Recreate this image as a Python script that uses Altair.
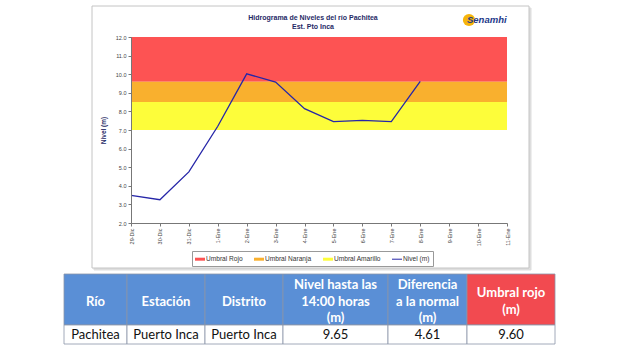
import altair as alt
import pandas as pd

# ---------------- data ----------------
DATES = ["29-Dic", "30-Dic", "31-Dic", "1-Ene", "2-Ene", "3-Ene", "4-Ene",
         "5-Ene", "6-Ene", "7-Ene", "8-Ene", "9-Ene", "10-Ene", "11-Ene"]
NIVEL = [3.48, 3.25, 4.75, 7.2, 10.02, 9.58, 8.15, 7.45, 7.52, 7.45, 9.62]
BAND_NAMES = ["Umbral Rojo", "Umbral Naranja", "Umbral Amarillo"]
BAND_LO = [9.6, 8.5, 7.0]
BAND_HI = [12.0, 9.6, 8.5]
LINE_NAME = "Nivel (m)"
SERIES = BAND_NAMES + [LINE_NAME]
Y_TICKS = [2, 3, 4, 5, 6, 7, 8, 9, 10, 11, 12]

TABLE_HEADERS = [["Río"], ["Estación"], ["Distrito"],
                 ["Nivel hasta las", "14:00 horas", "(m)"],
                 ["Diferencia", "a la normal", "(m)"],
                 ["Umbral rojo", "(m)"]]
TABLE_ROW = ["Pachitea", "Puerto Inca", "Puerto Inca", "9.65", "4.61", "9.60"]

TITLE_LINES = ["Hidrograma de Niveles del río Pachitea", "Est. Pto Inca"]
LOGO = "Senamhi"

# ---------------- styles / layout ----------------
BAND_COLORS = ["#fd5353", "#f9b02e", "#fdfd3a"]
LINE_COLOR = "#2626a8"
LEGEND_COLORS = BAND_COLORS + [LINE_COLOR]
LEGEND_PATHS = ["M-1,-0.3H1V0.3H-1Z"] * 3 + ["M-1,-0.1H1V0.1H-1Z"]
HEAD_BLUE = "#5a8fd6"
HEAD_RED = "#f24a50"
NAVY = "#1f2a66"
FONT = "Liberation Sans"
TFONT = "Lato"

W_PAGE, H_PAGE = 617, 351
PLOT_LEFT, PLOT_TOP, PLOT_W, PLOT_H = 131, 37, 376, 186
TABLE_LEFT = 64
COL_W = [63, 78, 78, 105, 79, 88]
HEAD_TOP, HEAD_H, ROW_H = 274, 51, 19
HEAD_MID = 27.6
LINE_STEP = 16.7
BOX = (92, 6, 529, 268)
TITLE_X, TITLE_Y, TITLE_STEP = 313, 18, 9

# ---------------- main chart ----------------
xscale = alt.Scale(domain=DATES, type="point", padding=0)
yscale = alt.Scale(domain=[2, 12], nice=False, zero=False)

bands_df = pd.DataFrame({
    "serie": BAND_NAMES, "lo": BAND_LO, "hi": BAND_HI,
    "x0": [DATES[0]] * 3, "x1": [DATES[-1]] * 3, "color": BAND_COLORS,
})
line_df = pd.DataFrame({"fecha": DATES[:len(NIVEL)], "nivel": NIVEL})
legend_df = pd.DataFrame({"serie": SERIES})

xaxis = alt.Axis(orient="bottom", labelAngle=270, labelFontSize=5.5, labelColor="#444",
                 labelFont=FONT, tickSize=3, tickColor="#777", domainColor="#777",
                 grid=False, title=None, labelPadding=2, zindex=1)
yaxis = alt.Axis(orient="left", values=Y_TICKS, format=".1f", labelFontSize=5.5,
                 labelColor="#444", labelFont=FONT, tickSize=3, tickColor="#777",
                 domainColor="#777", grid=False, title="Nivel (m)", titleFontSize=6.5,
                 titleColor=NAVY, titleFont=FONT, titleFontWeight="bold", titlePadding=9,
                 zindex=1)

bands = alt.Chart(bands_df).mark_rect().encode(
    x=alt.X("x0:O", scale=xscale, axis=xaxis, sort=DATES),
    x2="x1",
    y=alt.Y("lo:Q", scale=yscale, axis=yaxis),
    y2="hi",
    color=alt.Color("color:N", scale=None),
)

line = alt.Chart(line_df).mark_line(color=LINE_COLOR, strokeWidth=1.3).encode(
    x=alt.X("fecha:O", scale=xscale, sort=DATES, axis=xaxis),
    y=alt.Y("nivel:Q", scale=yscale, axis=yaxis),
)

leg = alt.Legend(title=None, orient="none", legendX=61, legendY=214, direction="horizontal",
                 columns=4, labelFontSize=6.6, labelFont=FONT, labelColor="#333",
                 symbolSize=100, symbolStrokeWidth=0, padding=3, strokeColor="#999",
                 fillColor="white", columnPadding=11, labelOffset=1, symbolOpacity=1)
legend_pts = alt.Chart(legend_df).mark_point(filled=True).encode(
    x=alt.value(-2000), y=alt.value(-2000),
    color=alt.Color("serie:N", scale=alt.Scale(domain=SERIES, range=LEGEND_COLORS), legend=leg),
    shape=alt.Shape("serie:N", scale=alt.Scale(domain=SERIES, range=LEGEND_PATHS), legend=leg),
)

main = alt.layer(bands, line, legend_pts)

# ---------------- page-space layers (box, title, logo, table) ----------------
px = alt.Scale(domain=[0, W_PAGE], range=[-PLOT_LEFT, W_PAGE - PLOT_LEFT], zero=False, nice=False)
py = alt.Scale(domain=[0, H_PAGE], range=[-PLOT_TOP, H_PAGE - PLOT_TOP], zero=False, nice=False)

box_df = pd.DataFrame({"x0": [BOX[0] + 2, BOX[0]], "y0": [BOX[1] + 2, BOX[1]],
                       "x1": [BOX[2] + 2, BOX[2]], "y1": [BOX[3] + 2, BOX[3]],
                       "fill": ["#dedede", "white"], "stroke": ["#dedede", "#c4c4c4"]})
box = alt.Chart(box_df).mark_rect(strokeWidth=1).encode(
    x=alt.X("x0:Q", scale=px, axis=None), x2="x1",
    y=alt.Y("y0:Q", scale=py, axis=None), y2="y1",
    fill=alt.Fill("fill:N", scale=None), stroke=alt.Stroke("stroke:N", scale=None),
)
decor = alt.layer(box)

title_df = pd.DataFrame({"x": [TITLE_X] * len(TITLE_LINES),
                         "y": [TITLE_Y + i * TITLE_STEP for i in range(len(TITLE_LINES))],
                         "t": TITLE_LINES})
title_c = alt.Chart(title_df).mark_text(fontSize=7, font=FONT, fontWeight="bold", color=NAVY,
                                        baseline="middle").encode(
    x=alt.X("x:Q", scale=px, axis=None), y=alt.Y("y:Q", scale=py, axis=None), text="t:N")

# logo
logo_df = pd.DataFrame({"x": [469], "y": [20]})
sun = alt.Chart(logo_df).mark_point(filled=True, shape="circle", size=150, color="#f6b40a", opacity=1).encode(
    x=alt.X("x:Q", scale=px, axis=None), y=alt.Y("y:Q", scale=py, axis=None))
logo_txt_df = pd.DataFrame({"x": [467], "y": [20], "t": [LOGO]})
logo_txt = alt.Chart(logo_txt_df).mark_text(align="left", baseline="middle", fontSize=9.5,
                                             font=FONT, fontWeight="bold", fontStyle="italic",
                                             color="#243a8a").encode(
    x=alt.X("x:Q", scale=px, axis=None), y=alt.Y("y:Q", scale=py, axis=None), text="t:N")

# table
edges = [TABLE_LEFT]
for w in COL_W:
    edges.append(edges[-1] + w)
cells = []
htext = []
dtext = []
for i in range(len(TABLE_ROW)):
    fill = HEAD_RED if i == len(TABLE_ROW) - 1 else HEAD_BLUE
    cells.append({"x0": edges[i], "x1": edges[i + 1], "y0": HEAD_TOP, "y1": HEAD_TOP + HEAD_H,
                  "fill": fill})
    cells.append({"x0": edges[i], "x1": edges[i + 1], "y0": HEAD_TOP + HEAD_H,
                  "y1": HEAD_TOP + HEAD_H + ROW_H, "fill": "white"})
    cx = (edges[i] + edges[i + 1]) / 2
    lines = TABLE_HEADERS[i]
    n = len(lines)
    for k, t in enumerate(lines):
        htext.append({"x": cx, "y": HEAD_TOP + HEAD_MID + (k - (n - 1) / 2) * LINE_STEP, "t": t})
    dtext.append({"x": cx, "y": HEAD_TOP + HEAD_H + ROW_H / 2, "t": TABLE_ROW[i]})

cells_c = alt.Chart(pd.DataFrame(cells)).mark_rect(stroke="#8a95a8", strokeWidth=0.8).encode(
    x=alt.X("x0:Q", scale=px, axis=None), x2="x1",
    y=alt.Y("y0:Q", scale=py, axis=None), y2="y1",
    fill=alt.Fill("fill:N", scale=None))
htext_c = alt.Chart(pd.DataFrame(htext)).mark_text(fontSize=13, font=TFONT, fontWeight="bold",
                                                   color="white", baseline="middle").encode(
    x=alt.X("x:Q", scale=px, axis=None), y=alt.Y("y:Q", scale=py, axis=None), text="t:N")
dtext_c = alt.Chart(pd.DataFrame(dtext)).mark_text(fontSize=13, font=TFONT, color="#111",
                                                   baseline="middle").encode(
    x=alt.X("x:Q", scale=px, axis=None), y=alt.Y("y:Q", scale=py, axis=None), text="t:N")

table = alt.layer(title_c, sun, logo_txt, cells_c, htext_c, dtext_c)

chart = alt.layer(decor, main, table).resolve_scale(
    x="independent", y="independent"
).properties(
    width=PLOT_W, height=PLOT_H,
    autosize=alt.AutoSizeParams(type="none"),
    padding={"left": PLOT_LEFT, "top": PLOT_TOP,
             "right": W_PAGE - PLOT_LEFT - PLOT_W, "bottom": H_PAGE - PLOT_TOP - PLOT_H},
    background="white",
).configure_view(strokeWidth=0)

chart.save("out.html", embed_options={"renderer": "svg", "actions": False})
